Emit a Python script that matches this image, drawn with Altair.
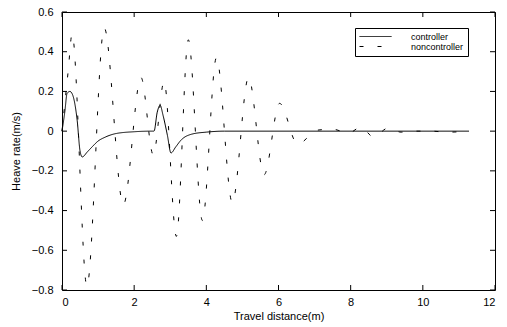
import altair as alt
import pandas as pd

# ---- data ----
ctrl_x = [0, 0.08, 0.14, 0.22, 0.3, 0.42, 0.5, 0.56, 0.7, 0.83, 1.0, 1.2, 1.5, 2.0, 2.5,
          2.55, 2.64, 2.72, 2.8, 2.92, 3.02, 3.15, 3.3, 3.6, 4.0, 4.5, 11.28]
ctrl_y = [0, 0.1, 0.19, 0.2, 0.18, 0.055, -0.1, -0.13, -0.105, -0.08, -0.05, -0.03, -0.012, -0.003, 0,
          0, 0.096, 0.13, 0.08, -0.02, -0.11, -0.08, -0.045, -0.015, -0.005, 0, 0]

nc_x = [0, 0.17, 0.28, 0.69, 1.17, 1.7, 2.19, 2.53, 2.83, 3.17, 3.5, 3.89, 4.28, 4.72, 5.17,
        5.6, 6.03, 6.53, 7.08, 7.5, 7.94, 8.28, 8.64, 9.03, 9.4, 9.78, 10.2, 10.7, 11.28]
nc_y = [0, 0.3, 0.49, -0.78, 0.52, -0.37, 0.27, -0.12, 0.25, -0.53, 0.46, -0.45, 0.37, -0.36, 0.27,
        -0.22, 0.14, -0.065, 0.005, 0.01, -0.01, 0.02, -0.03, 0.015, -0.005, 0.0, 0.0, -0.005, 0]

series_names = ["controller", "noncontroller"]
x_ticks = [0, 2, 4, 6, 8, 10, 12]
y_ticks = [-0.8, -0.6, -0.4, -0.2, 0, 0.2, 0.4, 0.6]

df = pd.concat([
    pd.DataFrame({"x": ctrl_x, "y": ctrl_y, "series": series_names[0]}),
    pd.DataFrame({"x": nc_x, "y": nc_y, "series": series_names[1]}),
])

W, H = 433, 278
FONT = "Liberation Sans"

xscale = alt.Scale(domain=[0, 12], nice=False, zero=False)
yscale = alt.Scale(domain=[-0.8, 0.6], nice=False, zero=False)

xaxis = alt.Axis(values=x_ticks, ticks=False, tickSize=0, grid=False, domain=False,
                 title="Travel distance(m)", labelPadding=6, titlePadding=3)
yaxis = alt.Axis(values=y_ticks, ticks=False, tickSize=0, grid=False, domain=False,
                 title="Heave rate(m/s)", labelPadding=9, titlePadding=10,
                 labelExpr="datum.value == 0 ? '0' : format(datum.value, '.1f')")

lines = alt.Chart(df).mark_line(color="black", strokeWidth=1, interpolate="monotone").encode(
    x=alt.X("x:Q", scale=xscale, axis=xaxis),
    y=alt.Y("y:Q", scale=yscale, axis=yaxis),
    strokeDash=alt.StrokeDash(
        "series:N",
        scale=alt.Scale(domain=series_names, range=[[1, 0], [4, 14]]),
        legend=alt.Legend(title=None, orient="none", legendX=293, legendY=16,
                          symbolType="M-4,0H4", symbolSize=64, symbolStrokeWidth=1,
                          symbolStrokeColor="black", symbolOffset=12, labelOffset=31,
                          labelFont=FONT, labelFontSize=9,
                          labelColor="black", strokeColor="black", fillColor="white",
                          padding=4, rowPadding=0),
    ),
)

ydf = pd.DataFrame({"y": y_ticks})
xdf = pd.DataFrame({"x": x_ticks})

left_t = alt.Chart(ydf).mark_rule(color="black").encode(
    y=alt.Y("y:Q", scale=yscale, axis=yaxis), x=alt.value(0), x2=alt.value(5))
right_t = alt.Chart(ydf).mark_rule(color="black").encode(
    y=alt.Y("y:Q", scale=yscale, axis=yaxis), x=alt.value(W), x2=alt.value(W - 5))
top_t = alt.Chart(xdf).mark_rule(color="black").encode(
    x=alt.X("x:Q", scale=xscale, axis=xaxis), y=alt.value(0), y2=alt.value(5))
bot_t = alt.Chart(xdf).mark_rule(color="black").encode(
    x=alt.X("x:Q", scale=xscale, axis=xaxis), y=alt.value(H), y2=alt.value(H - 5))

chart = alt.layer(lines, left_t, right_t, top_t, bot_t).properties(
    width=W, height=H,
    autosize=alt.AutoSizeParams(type="none"),
    padding={"left": 62, "top": 12, "right": 12, "bottom": 37},
    background="white",
).configure_view(stroke="black", strokeWidth=1).configure_axis(
    labelFont=FONT, labelFontSize=11, labelColor="black",
    titleFont=FONT, titleFontSize=11, titleFontWeight="normal", titleColor="black",
)

chart.save("out.html", embed_options={"renderer": "svg", "actions": False})
